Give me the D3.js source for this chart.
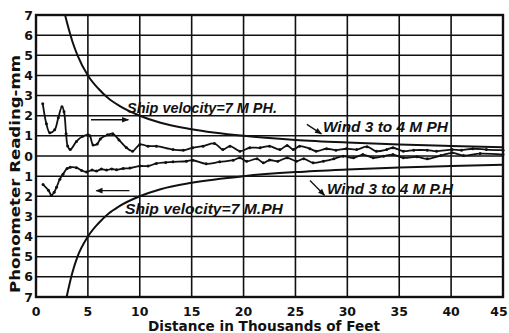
<!DOCTYPE html>
<html>
<head>
<meta charset="utf-8">
<script src="https://cdn.jsdelivr.net/npm/d3@7"></script>
<style>
  body { margin: 0; background: #fff; }
  svg { display: block; }
</style>
</head>
<body>
<div id="chart"></div>
<script>
const w = 509;
const h = 333;

// tick labels
const xTicks = [0, 5, 10, 15, 20, 25, 30, 35, 40, 45];
const yTicks = [7, 6, 5, 4, 3, 2, 1, 0, -1, -2, -3, -4, -5, -6, -7];

// "Ship velocity" curves
const shipUpX = [2.8, 3, 3.5, 4, 5, 6, 7, 8, 10, 12, 15, 20, 25, 30, 35, 40, 45];
const shipUpY = [7, 6.6, 5.7, 5, 4, 3.35, 2.85, 2.5, 2, 1.65, 1.33, 1.0, 0.8, 0.67, 0.57, 0.5, 0.44];
const shipDownX = [2.95, 3.5, 4, 5, 6, 7, 8, 10, 12, 15, 20, 25, 30, 35, 40, 45];
const shipDownY = [-7, -5.8, -5, -4, -3.35, -2.85, -2.5, -2, -1.65, -1.33, -1.0, -0.8, -0.67, -0.57, -0.5, -0.44];

// "Wind 3 to 4 MPH" readings
const windUpX = [0.65, 1.0, 1.33, 1.8, 2.15, 2.5, 2.7, 2.9, 3.05, 3.3, 3.9, 4.5, 5.0, 5.2, 5.5, 5.9, 6.2, 6.9, 7.4, 8.0, 8.7, 9.3,
  10, 10.8, 11.6, 13.2, 14.2, 15.1, 16.1, 17.2, 18.0, 18.7, 19.65, 20.6, 21.6, 22.5, 23.5, 24.2, 24.8, 25.4, 26.4, 27.0,
  28.0, 28.9, 29.9, 30.9, 31.9, 32.8, 33.8, 34.4, 35.4, 36.4, 37.7, 38.6, 40.1, 41.0, 42.1, 43.4, 45];
const windUpY = [2.6, 1.6, 1.15, 1.3, 1.9, 2.45, 2.2, 1.1, 0.5, 0.32, 0.72, 0.98, 1.05, 1.0, 0.55, 0.6, 0.85, 1.05, 1.1, 0.8, 0.42, 0.24,
  0.57, 0.49, 0.49, 0.32, 0.29, 0.41, 0.49, 0.62, 0.32, 0.49, 0.24, 0.41, 0.41, 0.49, 0.32, 0.52, 0.32, 0.49, 0.36, 0.24,
  0.36, 0.29, 0.36, 0.32, 0.46, 0.24, 0.32, 0.41, 0.24, 0.29, 0.29, 0.24, 0.32, 0.29, 0.36, 0.32, 0.29];
const windDownX = [0.68, 1.2, 1.49, 1.75, 1.98, 2.3, 2.6, 3.0, 3.3, 3.9, 4.4, 4.87, 5.4, 5.83, 6.3, 6.8, 7.3, 7.76, 8.4, 9.05,
  10, 10.8, 11.6, 12.5, 13.2, 14.5, 15.1, 16.4, 17.7, 19.0, 19.65, 20.3, 21.3, 21.9, 22.5, 23.3, 24.2, 25.1, 25.8, 26.7,
  27.7, 28.7, 29.6, 30.6, 31.5, 32.5, 33.5, 34.4, 35.4, 36.7, 37.7, 39.0, 40.1, 41.2, 42.8, 45];
const windDownY = [-1.42, -1.7, -1.95, -1.8, -1.55, -1.15, -0.9, -0.62, -0.56, -0.58, -0.72, -0.79, -0.7, -0.75, -0.65, -0.7, -0.64, -0.68, -0.62, -0.6,
  -0.5, -0.5, -0.37, -0.32, -0.29, -0.26, -0.21, -0.39, -0.29, -0.21, -0.09, -0.26, -0.14, -0.34, -0.2, -0.26, -0.09, -0.26, -0.14, -0.34,
  -0.26, -0.14, -0.01, -0.09, 0.07, -0.09, -0.01, 0.07, -0.09, -0.04, -0.14, 0.02, 0.16, 0.02, 0.12, 0.07];

const labels = ["Ship velocity=7 M PH.", "Ship velocity=7 M.PH", "Wind 3 to 4 M PH", "Wind 3 to 4 M P.H"];

const ink = "#111";

const svg = d3.select("#chart").append("svg").attr("width", w).attr("height", h);

const xScale = d3.scaleLinear().domain([0, 45]).range([36, 503]);
const yScale = d3.scaleLinear().domain([-7, 7]).range([297, 15]);

//Grid
const grid = svg.append("g");
grid.selectAll("line.h")
  .data(yTicks)
  .enter()
  .append("line")
  .attr("x1", xScale(0)).attr("x2", xScale(45))
  .attr("y1", (d) => yScale(d)).attr("y2", (d) => yScale(d))
  .attr("stroke", ink).attr("stroke-width", 1.5);
grid.selectAll("line.v")
  .data(xTicks)
  .enter()
  .append("line")
  .attr("x1", (d) => xScale(d)).attr("x2", (d) => xScale(d))
  .attr("y1", yScale(7)).attr("y2", yScale(-7))
  .attr("stroke", ink).attr("stroke-width", 1.6);

//Frame
svg.append("rect")
  .attr("x", xScale(0)).attr("y", yScale(7))
  .attr("width", xScale(45) - xScale(0)).attr("height", yScale(-7) - yScale(7))
  .attr("fill", "none").attr("stroke", ink).attr("stroke-width", 2.4);

//Axes as text
svg.append("g")
  .selectAll("text")
  .data(yTicks)
  .enter()
  .append("text")
  .attr("x", 33).attr("y", (d) => yScale(d) + 4.5)
  .attr("text-anchor", "end")
  .attr("font-family", "DejaVu Sans").attr("font-weight", "bold").attr("font-size", 12.5)
  .attr("fill", ink)
  .text((d) => Math.abs(d));

svg.append("g")
  .selectAll("text")
  .data(xTicks)
  .enter()
  .append("text")
  .attr("x", (d) => Math.min(xScale(d), 499)).attr("y", 316)
  .attr("text-anchor", "middle")
  .attr("font-family", "DejaVu Sans").attr("font-weight", "bold").attr("font-size", 12.5)
  .attr("fill", ink)
  .text((d) => d);

svg.append("text")
  .attr("x", 148).attr("y", 331)
  .attr("textLength", 232).attr("lengthAdjust", "spacingAndGlyphs")
  .attr("font-family", "DejaVu Sans").attr("font-weight", "bold").attr("font-size", 14)
  .attr("fill", ink)
  .text("Distance in Thousands of Feet");

svg.append("text")
  .attr("transform", "translate(20, 293) rotate(-90)")
  .attr("textLength", 238).attr("lengthAdjust", "spacingAndGlyphs")
  .attr("font-family", "DejaVu Sans").attr("font-weight", "bold").attr("font-size", 14)
  .attr("fill", ink)
  .text("Phonometer Reading-mm");

//Curves
const zip = (xs, ys) => xs.map((x, i) => [x, ys[i]]);
const smooth = d3.line()
  .x((d) => xScale(d[0]))
  .y((d) => yScale(d[1]))
  .curve(d3.curveMonotoneX);
const wiggle = d3.line()
  .x((d) => xScale(d[0]))
  .y((d) => yScale(d[1]))
  .curve(d3.curveCatmullRom);

[zip(shipUpX, shipUpY), zip(shipDownX, shipDownY)].forEach((pts) => {
  svg.append("path").attr("d", smooth(pts))
    .attr("fill", "none").attr("stroke", ink).attr("stroke-width", 2);
});

[zip(windUpX, windUpY), zip(windDownX, windDownY)].forEach((pts) => {
  svg.append("path").attr("d", wiggle(pts))
    .attr("fill", "none").attr("stroke", ink).attr("stroke-width", 1.8);
  svg.append("g")
    .selectAll("circle")
    .data(pts)
    .enter()
    .append("circle")
    .attr("cx", (d) => xScale(d[0])).attr("cy", (d) => yScale(d[1]))
    .attr("r", 1.5).attr("fill", ink);
});

//Arrows
svg.append("defs").append("marker")
  .attr("id", "head")
  .attr("viewBox", "0 0 10 10")
  .attr("refX", 9).attr("refY", 5)
  .attr("markerWidth", 9).attr("markerHeight", 7)
  .attr("markerUnits", "userSpaceOnUse")
  .attr("orient", "auto")
  .append("path").attr("d", "M0,1 L10,5 L0,9 Z").attr("fill", ink);

const arrows = [
  [[5.3, 1.8], [8.9, 1.8]],
  [[9.0, -1.72], [5.8, -1.72]],
  [[26.1, 1.57], [27.5, 1.1]],
  [[26.4, -1.22], [27.8, -1.95]]
];
arrows.forEach((a) => {
  svg.append("line")
    .attr("x1", xScale(a[0][0])).attr("y1", yScale(a[0][1]))
    .attr("x2", xScale(a[1][0])).attr("y2", yScale(a[1][1]))
    .attr("stroke", ink).attr("stroke-width", 1.3)
    .attr("marker-end", "url(#head)");
});

//Labels
const labelPos = [[8.77, 2.11, 150], [8.57, -2.86, 158], [27.65, 1.17, 125], [28.04, -1.87, 126]];
labels.forEach((t, i) => {
  const p = labelPos[i];
  svg.append("text")
    .attr("x", xScale(p[0])).attr("y", yScale(p[1]))
    .attr("textLength", p[2]).attr("lengthAdjust", "spacingAndGlyphs")
    .attr("font-family", "Liberation Sans").attr("font-style", "italic").attr("font-weight", "bold")
    .attr("font-size", 15)
    .attr("fill", ink)
    .text(t);
});
</script>
</body>
</html>
